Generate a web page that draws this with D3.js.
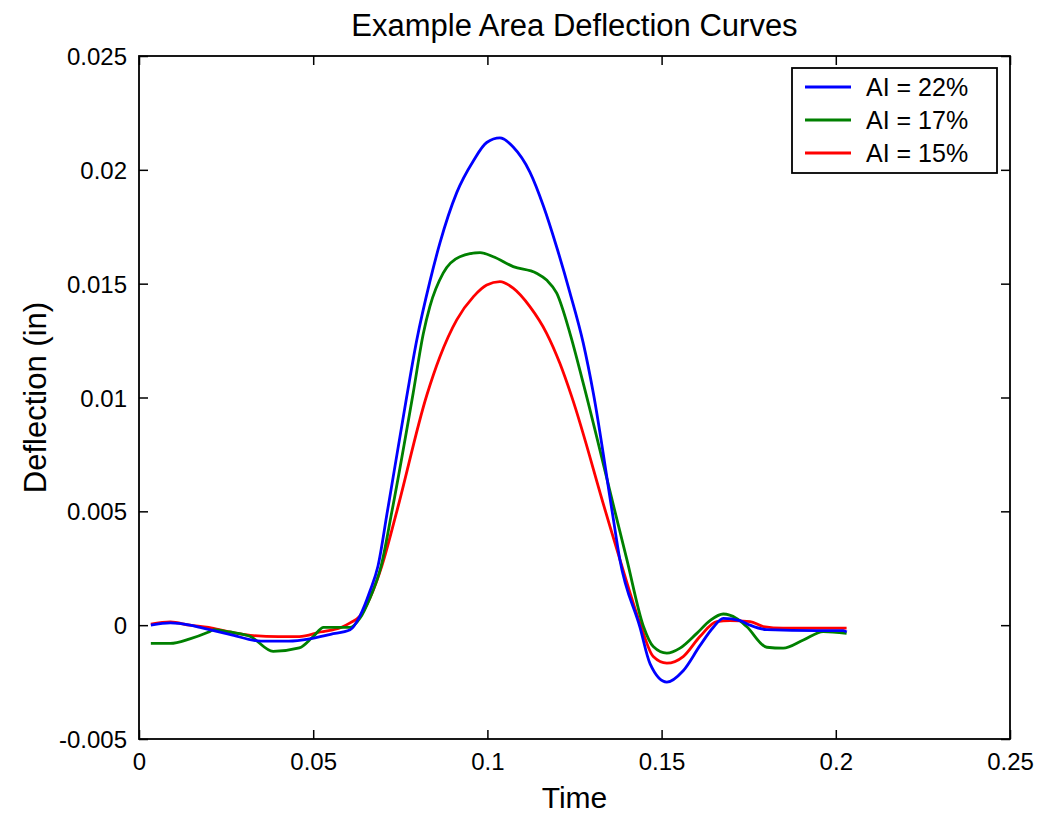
<!DOCTYPE html>
<html><head><meta charset="utf-8">
<script src="https://cdn.jsdelivr.net/npm/d3@7"></script>
<style>
body{margin:0;background:#fff;}
text{font-family:"Liberation Sans",Arial,sans-serif;fill:#000;}
</style></head><body>
<svg id="chart" width="1038" height="814"></svg>
<script>
const title = "Example Area Deflection Curves";
const xLabel = "Time";
const yLabel = "Deflection (in)";
const xTicks = [0, 0.05, 0.1, 0.15, 0.2, 0.25];
const yTicks = [-0.005, 0, 0.005, 0.01, 0.015, 0.02, 0.025];
const xTickLabels = ["0", "0.05", "0.1", "0.15", "0.2", "0.25"];
const yTickLabels = ["-0.005", "0", "0.005", "0.01", "0.015", "0.02", "0.025"];
const seriesNames = ["AI = 22%", "AI = 17%", "AI = 15%"];
const seriesColors = ["#0000ff", "#008000", "#ff0000"];

const timeBlue = [0.0034,0.009,0.0146,0.0175,0.026,0.035,0.043,0.049,0.055,0.0606,0.0634,0.0663,0.0686,0.0713,0.0768,0.0797,0.0835,0.0864,0.0912,0.0960,0.0998,0.1036,0.1074,0.1122,0.1161,0.1199,0.1237,0.1275,0.1304,0.1358,0.1380,0.1438,0.1467,0.1515,0.1562,0.1610,0.1648,0.1677,0.1725,0.1754,0.1802,0.1945,0.2022,0.2031];
const deflBlue = [0.0000,0.0001,0.0000,-0.0001,-0.0004,-0.0007,-0.0007,-0.0006,-0.0004,-0.0002,0.0004,0.0015,0.0026,0.0050,0.0100,0.0125,0.0151,0.0168,0.0190,0.0204,0.0212,0.0214,0.0210,0.0199,0.0184,0.0166,0.0146,0.0124,0.0102,0.0050,0.0029,-0.0001,-0.0017,-0.0025,-0.0020,-0.0009,-0.0001,0.0003,0.0002,0.0000,-0.0002,-0.00024,-0.00024,-0.0003];

const timeGreen = [0.0034,0.009,0.0146,0.020,0.0215,0.026,0.032,0.0385,0.046,0.050,0.053,0.0606,0.0634,0.0663,0.0695,0.0726,0.0787,0.0816,0.0835,0.0873,0.0921,0.0979,0.1017,0.1074,0.1141,0.1170,0.1199,0.1237,0.1275,0.1366,0.1400,0.1448,0.1476,0.1515,0.1553,0.1601,0.1639,0.1677,0.1715,0.1744,0.1802,0.1849,0.1907,0.1964,0.2031];
const deflGreen = [-0.0008,-0.0008,-0.0006,-0.0003,-0.0002,-0.0003,-0.0005,-0.00115,-0.0010,-0.0005,-0.0001,-0.0001,0.0003,0.0012,0.0026,0.0050,0.0102,0.0128,0.0140,0.01546,0.01618,0.01636,0.01618,0.01575,0.01546,0.01516,0.01458,0.01282,0.01063,0.0050,0.0029,-0.00006,-0.00094,-0.00123,-0.00101,-0.00036,0.0002,0.00049,0.0003,-0.00006,-0.00097,-0.00101,-0.00065,-0.00028,-0.00036];

const timeRed = [0.0034,0.009,0.0146,0.020,0.026,0.032,0.040,0.046,0.052,0.058,0.0606,0.0634,0.0663,0.0697,0.0740,0.0826,0.0864,0.0912,0.0960,0.0998,0.1036,0.1074,0.1122,0.1170,0.1208,0.1242,0.1339,0.1380,0.1438,0.1476,0.1515,0.1562,0.1610,0.1658,0.1696,0.1754,0.1792,0.1849,0.2031];
const deflRed = [0.00005,0.00014,0.0000,-0.0001,-0.0003,-0.00045,-0.0005,-0.0005,-0.0003,-0.0001,0.0001,0.0004,0.0012,0.0026,0.0050,0.0101,0.0118,0.01341,0.01443,0.01494,0.01509,0.0148,0.01399,0.01282,0.0115,0.01004,0.0050,0.0029,0.00008,-0.00138,-0.00167,-0.00138,-0.0005,0.00016,0.0002,0.00016,-0.00006,-0.00013,-0.00013];

const series = [
  {name: seriesNames[0], color: seriesColors[0], t: timeBlue, v: deflBlue},
  {name: seriesNames[1], color: seriesColors[1], t: timeGreen, v: deflGreen},
  {name: seriesNames[2], color: seriesColors[2], t: timeRed, v: deflRed}
];

const svg = d3.select("#chart");
const L = 139, R = 1010, T = 56, B = 739;
const x = d3.scaleLinear().domain([0, 0.25]).range([L, R]);
const y = d3.scaleLinear().domain([-0.005, 0.025]).range([B, T]);
const tickLen = 9;

// axes (MATLAB style box with inward ticks)
const gx = svg.append("g").attr("transform", `translate(0,${B})`)
  .call(d3.axisBottom(x).tickValues(xTicks).tickSizeInner(-tickLen).tickSizeOuter(0).tickPadding(14)
    .tickFormat((d, i) => xTickLabels[i]));
const gxTop = svg.append("g").attr("transform", `translate(0,${T})`)
  .call(d3.axisTop(x).tickValues(xTicks).tickSizeInner(-tickLen).tickSizeOuter(0).tickFormat(""));
const gy = svg.append("g").attr("transform", `translate(${L},0)`)
  .call(d3.axisLeft(y).tickValues(yTicks).tickSizeInner(-tickLen).tickSizeOuter(0).tickPadding(12)
    .tickFormat((d, i) => yTickLabels[i]));
const gyR = svg.append("g").attr("transform", `translate(${R},0)`)
  .call(d3.axisRight(y).tickValues(yTicks).tickSizeInner(-tickLen).tickSizeOuter(0).tickFormat(""));
[gx, gxTop, gy, gyR].forEach(g => {
  g.select(".domain").remove();
  g.selectAll("line").attr("stroke", "#000").attr("stroke-width", 1.5);
  g.selectAll("text").attr("font-size", 24).attr("font-family", "Liberation Sans, Arial, sans-serif").attr("fill", "#000");
});
gx.selectAll("text").attr("dy", "0.71em");
gy.selectAll("text").attr("dy", "0.36em");
svg.append("rect").attr("x", L).attr("y", T).attr("width", R - L).attr("height", B - T)
  .attr("fill", "none").attr("stroke", "#000").attr("stroke-width", 1.8);

// lines
const line = d3.line().x(d => x(d[0])).y(d => y(d[1])).curve(d3.curveMonotoneX);
const plot = svg.append("g");
series.slice().reverse().forEach(s => {
  const pts = s.t.map((t, i) => [t, s.v[i]]);
  plot.append("path").datum(pts).attr("d", line)
    .attr("fill", "none").attr("stroke", s.color).attr("stroke-width", 2.8)
    .attr("stroke-linejoin", "round");
});

// title and labels
svg.append("text").attr("x", (L + R) / 2).attr("y", 36).attr("text-anchor", "middle")
  .attr("font-size", 31).text(title);
svg.append("text").attr("x", (L + R) / 2).attr("y", 808).attr("text-anchor", "middle")
  .attr("font-size", 30).text(xLabel);
svg.append("text").attr("transform", `translate(46,${(T + B) / 2}) rotate(-90)`)
  .attr("text-anchor", "middle").attr("font-size", 31).text(yLabel);

// legend
const lg = svg.append("g");
lg.append("rect").attr("x", 792).attr("y", 68).attr("width", 205).attr("height", 105)
  .attr("fill", "#fff").attr("stroke", "#000").attr("stroke-width", 1.8);
series.forEach((s, i) => {
  const cy = 87 + i * 33;
  lg.append("line").attr("x1", 805).attr("x2", 851).attr("y1", cy).attr("y2", cy)
    .attr("stroke", s.color).attr("stroke-width", 3);
  lg.append("text").attr("x", 866).attr("y", cy).attr("dy", "0.36em")
    .attr("font-size", 25).text(s.name);
});
</script>
</body></html>
